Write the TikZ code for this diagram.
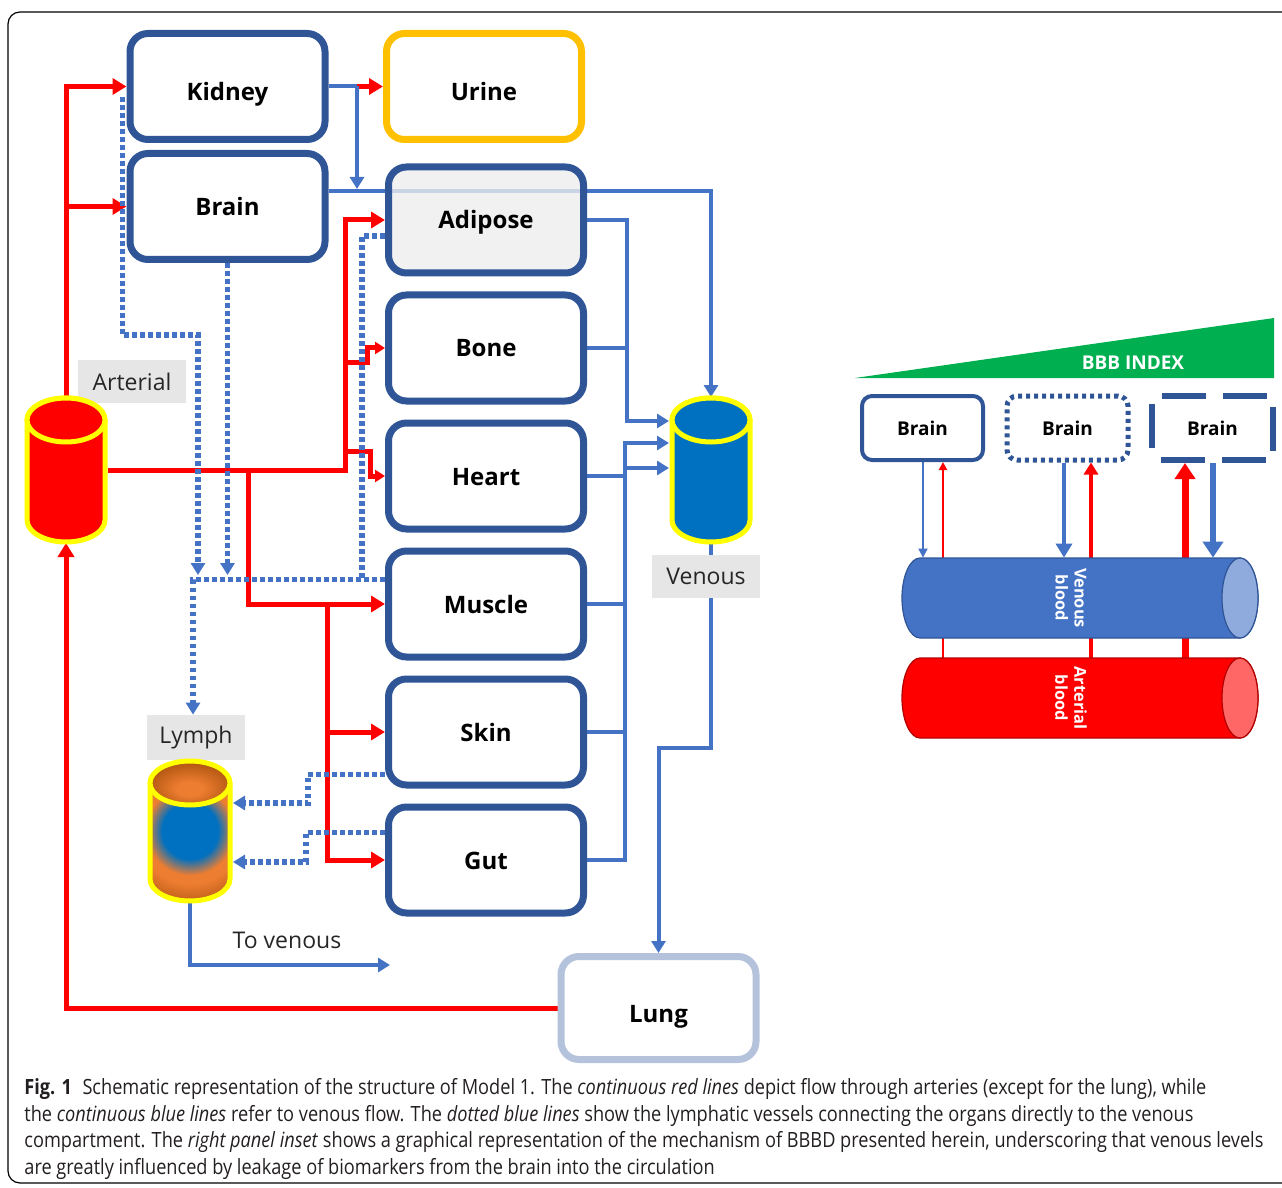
\documentclass[tikz,border=0pt]{standalone}
\usepackage{fontspec}
\setmainfont{Open Sans}
\newfontfamily\capfont[FakeStretch=0.865]{Open Sans}
\usetikzlibrary{arrows.meta}
\usetikzlibrary{positioning}

\definecolor{artred}{HTML}{FF0000}
\definecolor{cylyellow}{HTML}{FFFF00}
\definecolor{venfill}{HTML}{0070C0}
\definecolor{lineblue}{HTML}{4472C4}
\definecolor{boxblue}{HTML}{2F5597}
\definecolor{urineorange}{HTML}{FFC000}
\definecolor{lungblue}{HTML}{B4C2DC}
\definecolor{labelgray}{HTML}{E7E6E6}
\definecolor{adiposegray}{HTML}{EDEDED}
\definecolor{bbbgreen}{HTML}{00B050}
\definecolor{lymphorange}{HTML}{ED7D31}
\definecolor{lymphbrown}{HTML}{B85A14}
\definecolor{venend}{HTML}{8FAADC}
\definecolor{artend}{HTML}{FF6666}
\definecolor{labeltext}{HTML}{262626}
\definecolor{captext}{HTML}{231F20}

\pgfdeclarelayer{back}
\pgfsetlayers{back,main}

\pgfdeclareradialshading{lymphbody}{\pgfpoint{0bp}{0bp}}{color(0bp)=(venfill); color(8.5bp)=(venfill); color(13.5bp)=(lymphorange); color(16bp)=(lymphorange); color(23bp)=(lymphbrown); color(50bp)=(lymphbrown)}
\pgfdeclareradialshading{lymphtop}{\pgfpoint{0bp}{-8bp}}{color(0bp)=(lymphorange); color(8bp)=(lymphorange); color(25bp)=(lymphbrown); color(50bp)=(lymphbrown)}

% vertical cylinder: x, top y, bottom y, x radius, y radius, style
\newcommand{\vcyl}[6]{%
  \filldraw[#6] (#1-#4,#2) -- (#1-#4,#3) arc[start angle=180,end angle=0,x radius=#4,y radius=#5]
    -- (#1+#4,#2) arc[start angle=0,end angle=-180,x radius=#4,y radius=#5] -- cycle;
  \draw[#6] (#1,#2) ellipse[x radius=#4,y radius=#5];}
% lying cylinder: left x, right x, mid y, x radius, y radius, body style, end style
\newcommand{\hcyl}[7]{%
  \filldraw[#6] (#1+#4,#3-#5) -- (#2-#4,#3-#5) arc[start angle=-90,end angle=90,x radius=#4,y radius=#5]
    -- (#1+#4,#3+#5) arc[start angle=90,end angle=270,x radius=#4,y radius=#5] -- cycle;
  \filldraw[#7] (#2-#4,#3) ellipse[x radius=#4,y radius=#5];}

\begin{document}
\begin{tikzpicture}[x=0.5pt, y=-0.5pt,
    organ/.style={draw=boxblue, line width=3.5pt, rounded corners=9pt, fill=white,
      minimum width=97.5pt, minimum height=53pt, text height=9pt, text depth=0pt,
      font=\fontsize{12}{14}\selectfont\bfseries},
    low/.style={text height=14pt},
    tag/.style={fill=labelgray, minimum width=54pt, minimum height=21.5pt, inner sep=0pt,
      text=labeltext, font=\fontsize{11.5}{13}\selectfont},
    cyl/.style={minimum width=42pt, minimum height=73pt, inner sep=0pt, outer sep=0pt},
    mini/.style={draw=boxblue, line width=2pt, minimum width=60.5pt, minimum height=32pt,
      font=\fontsize{9.5}{11}\selectfont\bfseries},
    artline/.style={draw=artred, line width=2.5pt},
    venline/.style={draw=lineblue, line width=2pt},
    lymline/.style={draw=lineblue, line width=2.75pt, dash pattern=on 2.4pt off 1.6pt},
    redtip/.style={-{Triangle[length=7pt,width=8pt]}},
    smallredtip/.style={-{Triangle[length=5pt,width=6pt]}},
    bluetip/.style={-{Triangle[length=6pt,width=7pt]}},
    capline/.style={anchor=base west, inner sep=0pt, text=captext,
      font=\capfont\fontsize{10.5}{13}\selectfont}]

  \useasboundingbox (0,0) rectangle (1282,1188);
  \clip (0,0) rectangle (1282,1188);
  \draw[line width=0.6pt, rounded corners=6pt] (8,12) rectangle (1330,1183);

  % organs
  \node[organ, low] (kidney) at (227.5,86.5) {Kidney};
  \node[organ, below=3.5pt of kidney] (brain) {Brain};
  \node[organ, low, draw=urineorange] (urine) at (484,86.5) {Urine};
  \node[organ, fill=adiposegray, fill opacity=0.8, text opacity=1] (adipose) at (486,220) {Adipose};
  \node[organ, below=7.5pt of adipose] (bone) {Bone};
  \node[organ, below=7.5pt of bone] (heart) {Heart};
  \node[organ, below=7.5pt of heart] (muscle) {Muscle};
  \node[organ, below=7.5pt of muscle] (skin) {Skin};
  \node[organ, below=7.5pt of skin] (gut) {Gut};
  \node[organ, low, draw=lungblue, minimum height=51.5pt] (lung) at (658.5,1008) {Lung};

  % compartments
  \node[tag] (arttag) at (132,381.5) {Arterial};
  \node[tag] (ventag) at (706,576.5) {Venous};
  \node[tag, minimum width=49pt, minimum height=22.5pt] (lymphtag) at (196,737.5) {Lymph};
  \node[cyl] (art) at (66,470) {};
  \node[cyl] (ven) at (711,470) {};
  \node[cyl, minimum width=43pt, minimum height=71pt] (lymph) at (190,831) {};
  \vcyl{66}{420}{520}{39}{22}{fill=artred, draw=cylyellow, line width=2.5pt}
  \vcyl{711}{420}{520}{39}{22}{fill=venfill, draw=cylyellow, line width=2.5pt}
  \begin{scope}
    \clip (150,783) -- (150,879) arc[start angle=180,end angle=0,x radius=40,y radius=22]
      -- (230,783) -- cycle;
    \shade[shading=lymphbody] (190,831) circle[radius=82];
  \end{scope}
  \draw[draw=cylyellow, line width=2.5pt]
    (150,783) -- (150,879) arc[start angle=180,end angle=0,x radius=40,y radius=22] -- (230,783);
  \shadedraw[shading=lymphtop, draw=cylyellow, line width=2.5pt] (190,783) ellipse[x radius=40,y radius=22];
  \coordinate (kj) at (357,86.5);
  \coordinate (tovenous) at (390,965);
  \node[text=labeltext, font=\fontsize{11.5}{13}\selectfont] (tovtext) at (287,940) {To venous};

  \begin{pgfonlayer}{back}
    % arteries
    \draw[artline, redtip] (art.north) |- (kidney.west);
    \draw[artline, redtip] (art.north |- brain.west) -- (brain.west);
    \draw[artline, redtip] (art.east) -- (345,0 |- art.east) |- (adipose.west);
    \draw[artline, smallredtip] (345,363) -| (367,348) -- (bone.west);
    \draw[artline, smallredtip] (345,451) -| (370,476) -- (heart.west);
    \draw[artline, redtip] (248,0 |- art.east) |- (muscle.west);
    \draw[artline, redtip] (327,0 |- muscle.west) |- (gut.west);
    \draw[artline, redtip] (327,0 |- skin.west) -- (skin.west);
    \draw[artline, redtip] (lung.west) -| (art.south);
    \draw[artline, redtip] (kj) -- (urine.west);

    % veins
    \draw[venline] (kidney.east) -- (kj);
    \draw[venline, bluetip] (kj) -- (357,189);
    \draw[venline, bluetip] ([yshift=7.75pt]brain.east) -| (ven.north);
    \draw[venline, bluetip] (adipose.east) -| (627,421) -- (ven.west |- 0,421);
    \draw[venline] (bone.east) -- (627,0 |- bone.east);
    \draw[venline, bluetip] (gut.east) -| (625,443) -- (ven.west |- 0,443);
    \draw[venline, bluetip] (625,468) -- (ven.west |- 0,468);
    \draw[venline] (heart.east) -- (625,0 |- heart.east);
    \draw[venline] (muscle.east) -- (625,0 |- muscle.east);
    \draw[venline] (skin.east) -- (625,0 |- skin.east);
    \draw[venline, bluetip] (ven.south) -- (ven.south |- 0,748) -| (lung.north);
    \draw[venline, bluetip] (lymph.south) |- (tovenous);

    % lymphatics
    \draw[lymline, bluetip] ([xshift=-2pt,yshift=-5.25pt]kidney.west) |- (198,335) -- (198,575);
    \draw[lymline, bluetip] (brain.south) -- (brain.south |- 0,575);
    \draw[lymline] ([yshift=-8pt]adipose.west) -| (362,580);
    \draw[lymline, bluetip] ([yshift=12.25pt]muscle.west) -| (lymphtag.north -| 193,0);
    \draw[lymline, bluetip] ([yshift=-21.25pt]skin.west) -| (308,803) -- (lymph.east |- 0,803);
    \draw[lymline, bluetip] ([yshift=13.75pt]gut.west) -| (306,862) -- (lymph.east |- 0,862);
  \end{pgfonlayer}

  % inset
  \fill[bbbgreen] (855,378) -- (1274,378) -- (1274,318) -- cycle;
  \node[text=white, font=\fontsize{9.5}{11}\selectfont\bfseries] (bbb) at (1133,363) {BBB INDEX};
  \node[mini, rounded corners=5pt] (b1) at (922.5,428) {Brain};
  \node[mini, rounded corners=5pt, line width=2.5pt, dash pattern=on 2pt off 2pt] (b2) at (1067.5,428) {Brain};
  \node[mini, line width=3pt, dash pattern=on 22pt off 8.5pt, dash phase=26.25pt] (b3) at (1212.5,428) {Brain};
  \node[inner sep=0pt, minimum width=178pt, minimum height=40pt] (vblood) at (1080,598) {};
  \node[inner sep=0pt, minimum width=178pt, minimum height=40pt] (ablood) at (1080,698) {};
  \hcyl{902}{1258}{598}{18}{40}{fill=lineblue, draw=boxblue, line width=0.6pt}{fill=venend, draw=boxblue, line width=0.6pt}
  \hcyl{902}{1258}{698}{18}{40}{fill=artred, draw=artred!70!black, line width=0.6pt}{fill=artend, draw=artred!70!black, line width=0.6pt}
  \node[rotate=-90, align=center, text=white, font=\fontsize{8.2}{9.5}\selectfont\bfseries] (vtext) at (1071,598) {Venous\\blood};
  \node[rotate=-90, align=center, text=white, font=\fontsize{8.2}{9.5}\selectfont\bfseries] (atext) at (1071,698) {Arterial\\blood};

  \begin{pgfonlayer}{back}
    \draw[venline, line width=1pt, -{Triangle[length=4.5pt,width=4.5pt]}] (b1.south -| 923,0) -- (923,0 |- vblood.north);
    \draw[artline, line width=1pt, -{Triangle[length=4pt,width=4pt]}] (943,0 |- ablood.north) -- (943,0 |- b1.south);
    \draw[venline, -{Triangle[length=7pt,width=8pt]}] (b2.south -| 1064,0) -- (1064,0 |- vblood.north);
    \draw[artline, line width=2.2pt, -{Triangle[length=6pt,width=7pt]}] (1091,0 |- ablood.north) -- (1091,0 |- b2.south);
    \draw[artline, line width=3.5pt, -{Triangle[length=8pt,width=10pt]}] (1185,0 |- ablood.north) -- (1185,0 |- b3.south);
    \draw[venline, line width=3pt, -{Triangle[length=8pt,width=10pt]}] (b3.south -| 1213,0) -- (1213,0 |- vblood.north);
  \end{pgfonlayer}

  % caption
  \node[capline] (cap1) at (24,1094) {\textbf{Fig. 1}\enspace Schematic representation of the structure of Model 1. The \textit{continuous red lines} depict flow through arteries (except for the lung), while};
  \node[capline] (cap2) at (24,1121) {the \textit{continuous blue lines} refer to venous flow. The \textit{dotted blue lines} show the lymphatic vessels connecting the organs directly to the venous};
  \node[capline] (cap3) at (24,1147) {compartment. The \textit{right panel inset} shows a graphical representation of the mechanism of BBBD presented herein, underscoring that venous levels};
  \node[capline] (cap4) at (24,1174) {are greatly influenced by leakage of biomarkers from the brain into the circulation};
\end{tikzpicture}
\end{document}
